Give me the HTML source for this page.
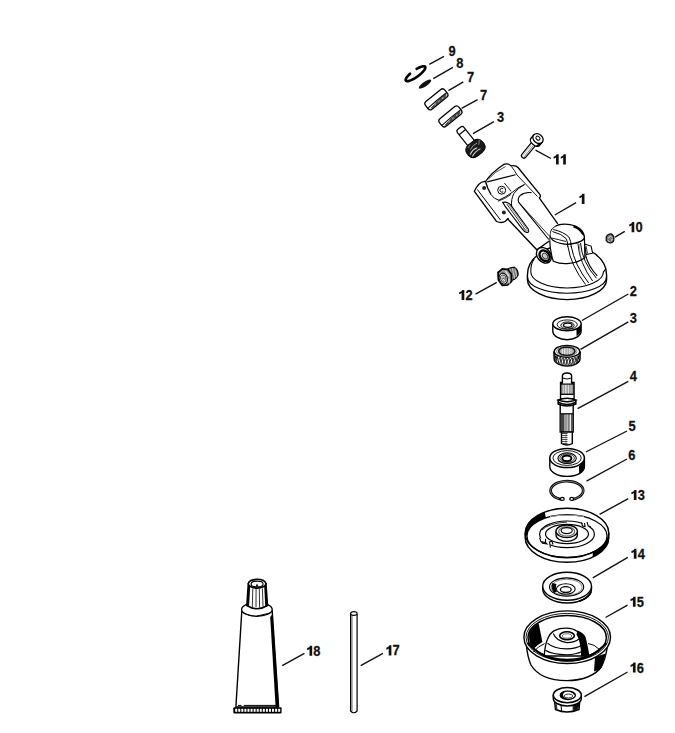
<!DOCTYPE html>
<html><head><meta charset="utf-8"><style>
html,body{margin:0;padding:0;background:#fff;}
body{width:675px;height:733px;overflow:hidden;}
svg{display:block;}
.lb{font-family:"Liberation Sans",sans-serif;font-weight:bold;font-size:14px;fill:#111;stroke:#111;stroke-width:0.25px;}
.ld{stroke:#111;stroke-width:1.4;}
</style></head><body>
<svg width="675" height="733" viewBox="0 0 675 733">
<rect width="675" height="733" fill="#fff"/>
<text transform="translate(448.60 56) scale(0.92 1)" class="lb">9</text>
<text transform="translate(456.30 67.9) scale(0.92 1)" class="lb">8</text>
<text transform="translate(467.00 82) scale(0.92 1)" class="lb">7</text>
<text transform="translate(480.00 99.6) scale(0.92 1)" class="lb">7</text>
<text transform="translate(497.00 121.6) scale(0.92 1)" class="lb">3</text>
<path d="M556.00,164.40 L558.70,164.40 L558.70,154.30 L556.70,154.30 Q556.10,156.10 553.60,156.70 L553.60,158.70 Q555.10,158.50 556.00,157.50 Z" fill="#111"/>
<path d="M563.16,164.40 L565.86,164.40 L565.86,154.30 L563.86,154.30 Q563.26,156.10 560.76,156.70 L560.76,158.70 Q562.26,158.50 563.16,157.50 Z" fill="#111"/>
<path d="M581.80,203.90 L584.50,203.90 L584.50,193.80 L582.50,193.80 Q581.90,195.60 579.40,196.20 L579.40,198.20 Q580.90,198.00 581.80,197.00 Z" fill="#111"/>
<path d="M631.60,232.20 L634.30,232.20 L634.30,222.10 L632.30,222.10 Q631.70,223.90 629.20,224.50 L629.20,226.50 Q630.70,226.30 631.60,225.30 Z" fill="#111"/>
<text transform="translate(635.46 232.2) scale(0.92 1)" class="lb">0</text>
<path d="M461.60,300.00 L464.30,300.00 L464.30,289.90 L462.30,289.90 Q461.70,291.70 459.20,292.30 L459.20,294.30 Q460.70,294.10 461.60,293.10 Z" fill="#111"/>
<text transform="translate(465.46 300) scale(0.92 1)" class="lb">2</text>
<text transform="translate(629.70 295.7) scale(0.92 1)" class="lb">2</text>
<text transform="translate(629.70 323.4) scale(0.92 1)" class="lb">3</text>
<text transform="translate(629.70 381.4) scale(0.92 1)" class="lb">4</text>
<text transform="translate(628.50 431) scale(0.92 1)" class="lb">5</text>
<text transform="translate(628.30 459.6) scale(0.92 1)" class="lb">6</text>
<path d="M633.80,500.00 L636.50,500.00 L636.50,489.90 L634.50,489.90 Q633.90,491.70 631.40,492.30 L631.40,494.30 Q632.90,494.10 633.80,493.10 Z" fill="#111"/>
<text transform="translate(637.66 500) scale(0.92 1)" class="lb">3</text>
<path d="M633.80,558.80 L636.50,558.80 L636.50,548.70 L634.50,548.70 Q633.90,550.50 631.40,551.10 L631.40,553.10 Q632.90,552.90 633.80,551.90 Z" fill="#111"/>
<text transform="translate(637.66 558.8) scale(0.92 1)" class="lb">4</text>
<path d="M632.90,606.80 L635.60,606.80 L635.60,596.70 L633.60,596.70 Q633.00,598.50 630.50,599.10 L630.50,601.10 Q632.00,600.90 632.90,599.90 Z" fill="#111"/>
<text transform="translate(636.76 606.8) scale(0.92 1)" class="lb">5</text>
<path d="M632.90,672.60 L635.60,672.60 L635.60,662.50 L633.60,662.50 Q633.00,664.30 630.50,664.90 L630.50,666.90 Q632.00,666.70 632.90,665.70 Z" fill="#111"/>
<text transform="translate(636.76 672.6) scale(0.92 1)" class="lb">6</text>
<path d="M309.50,655.80 L312.20,655.80 L312.20,645.70 L310.20,645.70 Q309.60,647.50 307.10,648.10 L307.10,650.10 Q308.60,649.90 309.50,648.90 Z" fill="#111"/>
<text transform="translate(313.36 655.8) scale(0.92 1)" class="lb">8</text>
<path d="M388.70,655.40 L391.40,655.40 L391.40,645.30 L389.40,645.30 Q388.80,647.10 386.30,647.70 L386.30,649.70 Q387.80,649.50 388.70,648.50 Z" fill="#111"/>
<text transform="translate(392.56 655.4) scale(0.92 1)" class="lb">7</text>
<line x1="429.3" y1="64.3" x2="444" y2="56.3" class="ld"/>
<line x1="433.3" y1="78.6" x2="452.9" y2="67.4" class="ld"/>
<line x1="448.5" y1="90.7" x2="463.3" y2="81.8" class="ld"/>
<line x1="461.6" y1="108.4" x2="477.6" y2="99.6" class="ld"/>
<line x1="473" y1="133.6" x2="493.9" y2="121.6" class="ld"/>
<line x1="535.5" y1="150.2" x2="550.9" y2="158.5" class="ld"/>
<line x1="554.8" y1="215" x2="576.1" y2="202.7" class="ld"/>
<line x1="615" y1="237.1" x2="624.8" y2="231.3" class="ld"/>
<line x1="475.5" y1="294.1" x2="496.8" y2="282.3" class="ld"/>
<line x1="582" y1="320.5" x2="628.3" y2="294" class="ld"/>
<line x1="580.5" y1="349.3" x2="628.3" y2="321.9" class="ld"/>
<line x1="577.6" y1="408.7" x2="628.3" y2="381.4" class="ld"/>
<line x1="585.8" y1="452" x2="627" y2="431" class="ld"/>
<line x1="586.5" y1="481.2" x2="627" y2="459" class="ld"/>
<line x1="599.6" y1="514.3" x2="628.3" y2="498.7" class="ld"/>
<line x1="592.8" y1="577.9" x2="627.8" y2="557.4" class="ld"/>
<line x1="605.5" y1="617.5" x2="627.5" y2="605.2" class="ld"/>
<line x1="584.4" y1="696.6" x2="627.6" y2="672" class="ld"/>
<line x1="282.2" y1="665.7" x2="304.4" y2="653.3" class="ld"/>
<line x1="360.7" y1="665.7" x2="383" y2="653.3" class="ld"/>
<path d="M416.62,68.93 L417.97,68.18 L419.28,67.54 L420.52,67.02 L421.65,66.63 L422.67,66.37 L423.55,66.26 L424.27,66.29 L424.82,66.47 L425.19,66.79 L425.37,67.24 L425.36,67.82 L425.15,68.51 L424.76,69.31 L424.19,70.19 L423.45,71.13 L422.55,72.13 L421.52,73.16 L420.37,74.20 L419.13,75.23 L417.81,76.23 L416.45,77.18 L415.07,78.06 L413.70,78.86 L412.37,79.55 L411.09,80.14 L409.90,80.59 L408.82,80.92 L407.87,81.10 L407.07,81.14 L406.43,81.03 L405.97,80.79 L405.70,80.40 L405.61,79.88 L405.72,79.25 L406.02,78.50 L406.50,77.66 L407.16,76.75 L407.98,75.77 L408.95,74.76 L410.04,73.72" fill="none" stroke="#000" stroke-width="2.6" stroke-linecap="round"/>
<ellipse cx="425" cy="84.1" rx="7.4" ry="2.3" transform="rotate(-34 425 84.1)" fill="#111"/>
<g transform="translate(436.4 99.3) rotate(-39)"><rect x="-12.4" y="-4.9" width="24.8" height="9.8" rx="2.8" ry="3.4" fill="#fff" stroke="#000" stroke-width="1.3"/><path d="M-11.8,1.6 Q0,0.9 12.3,1.2" fill="none" stroke="#000" stroke-width="1"/><path d="M-10,3.6 Q0,1.3 11,1.5 Q10,4.4 2,4.6 Q-4,4.7 -10,3.6Z" fill="#4a4a4a" stroke="#222" stroke-width="0.6"/><path d="M-5,3.8 L-3.5,2.6 M0,3.8 L1.5,2.5 M5,3.7 L6.5,2.5" stroke="#ddd" stroke-width="0.7"/></g>
<g transform="translate(450.4 116.4) rotate(-39)"><rect x="-12.4" y="-4.9" width="24.8" height="9.8" rx="2.8" ry="3.4" fill="#fff" stroke="#000" stroke-width="1.3"/><path d="M-11.8,1.6 Q0,0.9 12.3,1.2" fill="none" stroke="#000" stroke-width="1"/><path d="M-10,3.6 Q0,1.3 11,1.5 Q10,4.4 2,4.6 Q-4,4.7 -10,3.6Z" fill="#4a4a4a" stroke="#222" stroke-width="0.6"/><path d="M-5,3.8 L-3.5,2.6 M0,3.8 L1.5,2.5 M5,3.7 L6.5,2.5" stroke="#ddd" stroke-width="0.7"/></g>
<g transform="translate(475.5 148.5) rotate(-38.6)"><path d="M-4.2,-3 L-4.2,-23.5 Q-4.2,-26 -1.8,-26 L1.8,-26 Q4.2,-26 4.2,-23.5 L4.2,-3" fill="#fff" stroke="#000" stroke-width="1.2"/><line x1="-4.2" y1="-21" x2="4.2" y2="-21" stroke="#000" stroke-width="1.1"/><g transform="scale(0.93)"><path d="M-10.5,-1 Q-10.5,-7 -4,-7.8 L4,-7.8 Q10.5,-7 10.5,-1 L10.5,1.5 Q10,7.5 3,7.8 L-3,7.8 Q-10,7.5 -10.5,1.5 Z" fill="#1a1a1a" stroke="#000" stroke-width="1"/><path d="M-8.5,1.5 Q-3,-1.5 2,0.5" fill="none" stroke="#ddd" stroke-width="1.1"/><path d="M-8,4.5 Q-2,2 4,3.5" fill="none" stroke="#ccc" stroke-width="1"/><path d="M-5,-2.5 Q0,-5 5,-3.5" fill="none" stroke="#aaa" stroke-width="0.9"/><path d="M5,-1 Q8,-3 9,-5" fill="none" stroke="#888" stroke-width="0.9"/><path d="M-6,-5.5 L-2,-6.6" fill="none" stroke="#999" stroke-width="0.8"/></g></g>
<g transform="translate(538 138.6) rotate(39.5)"><rect x="-2.5" y="4" width="5" height="20.5" rx="2.4" fill="#fff" stroke="#000" stroke-width="1.2"/><line x1="0.9" y1="9" x2="0.9" y2="23" stroke="#666" stroke-width="0.8"/><line x1="-0.9" y1="9" x2="-0.9" y2="23" stroke="#999" stroke-width="0.6"/><path d="M-5.6,0 L-5.6,4.5 A5.6,3.2 0 0 0 5.6,4.5 L5.6,0" fill="#fff" stroke="#000" stroke-width="1.3"/><path d="M3,7.2 Q5.6,6 5.6,3 L5.6,1 L3.5,4 Z" fill="#000"/><ellipse cx="0" cy="0" rx="5.6" ry="4.4" fill="#fff" stroke="#000" stroke-width="1.3"/><ellipse cx="-0.3" cy="-0.3" rx="2.3" ry="1.7" fill="#fff" stroke="#000" stroke-width="1"/></g>
<path d="M606.3,236.5 Q608,233.6 611,233.8 Q613.8,235 613.9,238.5 Q614.2,242 611,242.8 Q607.5,243 606.2,240.5 Z" fill="#777" stroke="#111" stroke-width="1.3"/>
<path d="M608,238 L610.8,236.2 L612.5,237.8" fill="none" stroke="#ddd" stroke-width="0.9"/>
<path d="M607.8,240.6 L609.5,241.5 M611,240.2 L612.6,239.6" fill="none" stroke="#eee" stroke-width="0.9"/>
<path d="M507,270 Q510,267 514.5,267.5 Q518.5,270 518,275 Q516.5,279 512,280 L508,281 Z" fill="#777" stroke="#000" stroke-width="1.3"/><path d="M509.8,268.5 L512.5,279.5 M512.3,268 L514.8,278.8 M514.8,268.3 L517,277.5" stroke="#ddd" stroke-width="0.8"/><path d="M498,272.5 L502.3,268.8 L507.7,269.3 L511.3,274 L511.6,281.4 L507.7,285 L502.3,285.4 L498.4,280 Z" fill="#999" stroke="#000" stroke-width="1.7" stroke-linejoin="round"/><path d="M505.5,271 L509,276.5 M508.8,278.5 L509.2,283.5" stroke="#eee" stroke-width="1.2"/><ellipse cx="503.3" cy="278.6" rx="4.1" ry="5.5" transform="rotate(-15 503.3 278.6)" fill="#fff" stroke="#111" stroke-width="1.1"/><ellipse cx="503.3" cy="278.6" rx="2.7" ry="3.7" transform="rotate(-15 503.3 278.6)" fill="#fff" stroke="#222" stroke-width="0.9"/><ellipse cx="503.3" cy="278.6" rx="1.3" ry="1.9" transform="rotate(-15 503.3 278.6)" fill="#fff" stroke="#444" stroke-width="0.6"/><circle cx="503.2" cy="278.5" r="0.6" fill="#000"/>
<g><path d="M527.4,275 A39.6,30 0 0 1 606.6,275 L606.6,279.6 A39.6,20 0 0 1 527.4,279.6 Z" fill="#fff" stroke="#000" stroke-width="1.4"/><path d="M527.6,277.3 A39.4,16 0 0 0 606.4,277.3" fill="none" stroke="#000" stroke-width="1.1"/><path d="M534.5,258.5 Q530.5,264 530.8,272 A36.3,16 0 0 0 603.4,272 Q604.5,271 605.9,268.5" fill="none" stroke="#000" stroke-width="1.1"/><path d="M584.5,244 L591.1,246.1 L592.6,253.2 L586.2,254.6 Z" fill="#fff" stroke="#000" stroke-width="1.1"/><path d="M586,246 L587.5,253.5" stroke="#000" stroke-width="0.8"/><path d="M549.8,235 Q549,248 553.3,261.2 Q561,264.5 569.3,263.4 Q578,262.5 584.9,257.7 L584.4,236 Z" fill="#fff" stroke="#000" stroke-width="1.2"/><path d="M567.8,246 Q571,266 585.6,284.5" fill="none" stroke="#000" stroke-width="1"/><path d="M571.2,246 Q574.5,265 588.7,283" fill="none" stroke="#000" stroke-width="1"/><path d="M577.9,243.5 Q579.5,263 592.6,281" fill="none" stroke="#000" stroke-width="1"/><path d="M580.5,243 Q582,262 596.5,278.3" fill="none" stroke="#000" stroke-width="1"/><path d="M585.6,255.1 Q588,266 597.3,275.8" fill="none" stroke="#000" stroke-width="1.1"/><path d="M579.2,244 L580.5,258" fill="none" stroke="#777" stroke-width="0.7"/><path d="M549.8,235 Q550,227 558,225 Q566,222.8 575.6,226 Q584,230 584.4,237.5 Q583,243 567,244.3 Q551,243 549.8,235 Z" fill="#fff" stroke="#000" stroke-width="1.3"/><path d="M574,225.5 Q583,228.5 584.3,236 L582,234.5 Q579,229 573,227.2 Z" fill="#000"/><path d="M551.8,238 Q560,240 566,241.5" fill="none" stroke="#000" stroke-width="0.9"/><path d="M552.4,231.5 Q562,234 566,238.5 Q567.8,241 567.8,247" fill="none" stroke="#000" stroke-width="1"/><path d="M553.2,229.5 Q564,232 568.8,237 Q571.2,240.5 571.2,247" fill="none" stroke="#000" stroke-width="1"/><path d="M497,203 L536.8,249.8 L549.3,241 Q549.3,233 551,229.5 Q554,226 557.8,223.9 L538.9,197.4 L520,190 Z" fill="#fff" stroke="none"/><path d="M507.8,219 L536.8,249.8 L549.3,241 M557.8,223.9 L538.9,197.4" fill="none" stroke="#000" stroke-width="1.3"/><ellipse cx="543.9" cy="255.3" rx="6.6" ry="8.6" transform="rotate(-40 543.9 255.3)" fill="#fff" stroke="#000" stroke-width="1.4"/><ellipse cx="544.6" cy="255.8" rx="4.5" ry="5.9" transform="rotate(-40 544.6 255.8)" fill="#fff" stroke="#000" stroke-width="2.3"/><ellipse cx="545" cy="256.1" rx="2.3" ry="3.2" transform="rotate(-40 545 256.1)" fill="#ccc" stroke="#333" stroke-width="1"/><path d="M487,181.6 L484.4,181.3 Q478.5,182 474.4,191.3 L496.5,221.5 Q501.9,223.6 505.4,221.3 L508,218.5 L499,203 L491,194.7 Z" fill="#fff" stroke="none"/><path d="M487,181.6 L484.4,181.3 Q478.5,182 474.4,191.3 L496.5,221.5 Q501.9,223.6 505.4,221.3 L508.5,218" fill="none" stroke="#000" stroke-width="1.3"/><path d="M477.3,189.5 L500.5,220" fill="none" stroke="#000" stroke-width="1"/><circle cx="484.1" cy="188.1" r="2" fill="#222"/><path d="M485.6,181.5 Q491,173 503.3,164.7 Q507.8,162.8 511.1,165.8 Q516,165 518,167.5 L540,194.7 Q541.2,197.2 538.9,197.8 L529,192.4 Q521,194 518.3,200.4 L511.7,206.7 L499,203 L491.1,194.7 Q487,188 485.6,181.5 Z" fill="#fff" stroke="none"/><path d="M491.1,194.7 Q487,188 485.6,181.5 Q491,173 503.3,164.7 Q507.8,162.8 511.1,165.8 Q516,165 518,167.5 L540,194.7 Q541.2,197.2 538.9,197.8" fill="none" stroke="#000" stroke-width="1.3"/><path d="M548.8,239.5 L518.6,202.2 Q517.2,198.5 520.5,195.2 Q524.5,192 531.5,192.6" fill="none" stroke="#000" stroke-width="1.1"/><path d="M549.8,236.5 L520.2,204" fill="none" stroke="#000" stroke-width="0.8"/><path d="M511.7,207 Q510.8,199 514,193.3 Q518,188 524.6,184.4" fill="none" stroke="#000" stroke-width="1"/><path d="M487.2,181.9 L515.6,174.7" fill="none" stroke="#000" stroke-width="1.1"/><path d="M488.5,179 Q494,172 505.5,166.5" fill="none" stroke="#000" stroke-width="0.7"/><path d="M511.5,166.5 Q515,171 517,175 L537.5,196.5" fill="none" stroke="#000" stroke-width="0.9"/><path d="M504.4,183 L511.1,191.3" fill="none" stroke="#000" stroke-width="0.9"/><path d="M491.1,194.7 Q494,199 498.9,200.2 Q506,197 512.2,192.4 Q518,187 524.4,184.7" fill="none" stroke="#000" stroke-width="1"/><path d="M497.8,201.3 Q505,199 511,194.5" fill="none" stroke="#000" stroke-width="0.8"/><circle cx="501.7" cy="190.2" r="4" fill="#fff" stroke="#000" stroke-width="1"/><path d="M503.2,188.6 A2,2 0 1 0 503.2,191.8" fill="none" stroke="#000" stroke-width="1"/><g transform="translate(2.2 -0.6)"><path d="M500.5,203 Q505,202 508,205 L526,229.5 Q527.5,233.5 524.5,233 Q522,232.5 520,229.5 L503,207 Z" fill="#fff" stroke="#000" stroke-width="1.1"/><path d="M504.5,204.5 L523.5,231" fill="none" stroke="#000" stroke-width="0.8"/><path d="M506.5,204.8 L525.2,230.5" fill="none" stroke="#555" stroke-width="0.7"/><path d="M521,229 Q523.5,233 526,231" fill="none" stroke="#888" stroke-width="1.2"/></g><circle cx="503.9" cy="212.6" r="2" fill="#222"/></g>
<path d="M552.8,323.8 L552.8,331 A14.15,8.7 0 0 0 581.1,331 L581.1,323.8" fill="#fff" stroke="#000" stroke-width="1.4"/>
<path d="M576.4,328.5 L576.6,336.2 Q580,334 581.1,331 L581.1,325.5 Q579.5,327.8 576.4,328.5 Z" fill="#000"/>
<ellipse cx="567" cy="323.8" rx="14.15" ry="7" fill="#fff" stroke="#000" stroke-width="1.4"/>
<ellipse cx="567.2" cy="324.6" rx="10.1" ry="4.7" fill="#fff" stroke="#000" stroke-width="0.9"/>
<ellipse cx="567.5" cy="325.4" rx="6.7" ry="3.5" fill="#e0e0e0" stroke="#000" stroke-width="0.9"/>
<ellipse cx="567.8" cy="325.2" rx="4.2" ry="2.1" fill="#fff" stroke="#000" stroke-width="1.3"/>
<path d="M553.9,351.5 L554.2,358.8 A12.9,7.2 0 0 0 580,358.8 L580.2,351.5" fill="#fff" stroke="#000" stroke-width="1.5"/>
<ellipse cx="556.60" cy="359.20" rx="0.68" ry="3.55" transform="rotate(12 556.60 359.20)" fill="#fff" stroke="#111" stroke-width="0.9"/><ellipse cx="559.55" cy="360.69" rx="0.94" ry="3.69" transform="rotate(12 559.55 360.69)" fill="#fff" stroke="#111" stroke-width="0.9"/><ellipse cx="562.50" cy="361.49" rx="1.08" ry="3.76" transform="rotate(12 562.50 361.49)" fill="#fff" stroke="#111" stroke-width="0.9"/><ellipse cx="565.45" cy="361.85" rx="1.14" ry="3.80" transform="rotate(12 565.45 361.85)" fill="#fff" stroke="#111" stroke-width="0.9"/><ellipse cx="568.40" cy="361.86" rx="1.14" ry="3.80" transform="rotate(12 568.40 361.86)" fill="#fff" stroke="#111" stroke-width="0.9"/><ellipse cx="571.35" cy="361.51" rx="1.08" ry="3.76" transform="rotate(12 571.35 361.51)" fill="#fff" stroke="#111" stroke-width="0.9"/><ellipse cx="574.30" cy="360.74" rx="0.95" ry="3.69" transform="rotate(12 574.30 360.74)" fill="#fff" stroke="#111" stroke-width="0.9"/><ellipse cx="577.25" cy="359.31" rx="0.70" ry="3.56" transform="rotate(12 577.25 359.31)" fill="#fff" stroke="#111" stroke-width="0.9"/>
<path d="M554,354 Q555,359 557,361 L556,356 Z" fill="#000"/>
<path d="M580,354 Q579.5,359 577,361.5 L578.2,356 Z" fill="#000"/>
<ellipse cx="567" cy="351.4" rx="12.8" ry="6" fill="#fff" stroke="#000" stroke-width="1.4"/>
<ellipse cx="566.8" cy="351.3" rx="8.2" ry="4.2" fill="#aaa" stroke="#111" stroke-width="1.6"/>
<ellipse cx="566.8" cy="351.3" rx="10.2" ry="5" fill="none" stroke="#555" stroke-width="0.7"/>
<line x1="562.3" y1="348.4" x2="562.3" y2="354.2" stroke="#eee" stroke-width="0.9"/><line x1="564.8" y1="348.4" x2="564.8" y2="354.2" stroke="#fff" stroke-width="0.9"/><line x1="567.3" y1="348.4" x2="567.3" y2="354.2" stroke="#ddd" stroke-width="0.9"/><line x1="569.8" y1="348.4" x2="569.8" y2="354.2" stroke="#fff" stroke-width="0.9"/><line x1="571.8" y1="348.4" x2="571.8" y2="354.2" stroke="#ccc" stroke-width="0.9"/>
<rect x="560.6" y="382.5" width="13.4" height="16" fill="#999" stroke="#000" stroke-width="1.5"/><rect x="562.8000000000001" y="385" width="1.2" height="10" fill="#ccc"/><rect x="565.2" y="385" width="1.2" height="10" fill="#eee"/><rect x="567.8000000000001" y="385" width="1.2" height="10" fill="#ddd"/><rect x="570.4" y="385" width="1.2" height="10" fill="#bbb"/><line x1="561" y1="383.8" x2="573.6" y2="383.8" stroke="#000" stroke-width="1.6"/><rect x="561.3" y="394.5" width="12" height="3.5" fill="#fff"/><line x1="561" y1="394.3" x2="573.6" y2="394.3" stroke="#000" stroke-width="1.3"/><path d="M562.4,383.5 L562.4,376 Q562.4,373 567,373 Q571.6,373 571.6,376 L571.6,383.5" fill="#fff" stroke="#000" stroke-width="1.4"/><path d="M562.6,378 Q567,380 571.4,378" fill="none" stroke="#000" stroke-width="1"/><rect x="560.2" y="405" width="13" height="27" fill="#fff" stroke="#000" stroke-width="1.4"/><rect x="560.6" y="413.8" width="12.2" height="17.8" fill="#444"/><rect x="564" y="413.8" width="3" height="17.8" fill="#999"/><rect x="567" y="413.8" width="1.5" height="17.8" fill="#bbb"/><rect x="569.5" y="413.8" width="1.6" height="17.8" fill="#eee"/><line x1="560.5" y1="413.8" x2="573" y2="413.8" stroke="#000" stroke-width="1.2"/><path d="M558.2,400 L558.2,404 Q567,408 575.8,404 L575.8,400" fill="#fff" stroke="#000" stroke-width="1.6"/><path d="M558.2,400 Q567,396.5 575.8,400 Q567,403.5 558.2,400 Z" fill="#fff" stroke="#000" stroke-width="1.5"/><path d="M558.8,402.5 Q567,406.5 575.2,402.5" fill="none" stroke="#000" stroke-width="1.4"/><path d="M561.5,432 L561.5,443.5 Q567,446.5 572.3,443.5 L572.3,432 Z" fill="#fff" stroke="#000" stroke-width="1.4"/><line x1="562" y1="433.5" x2="567.5" y2="433.5" stroke="#333" stroke-width="0.9"/><line x1="562" y1="435.5" x2="567.5" y2="435.5" stroke="#333" stroke-width="0.9"/><line x1="562" y1="437.5" x2="567.5" y2="437.5" stroke="#333" stroke-width="0.9"/><line x1="562" y1="439.5" x2="567.5" y2="439.5" stroke="#333" stroke-width="0.9"/><line x1="562" y1="441.5" x2="567.5" y2="441.5" stroke="#333" stroke-width="0.9"/><line x1="562" y1="443.5" x2="567.5" y2="443.5" stroke="#333" stroke-width="0.9"/><line x1="566" y1="432.5" x2="566" y2="444" stroke="#555" stroke-width="0.6"/>
<path d="M549.8,458 L549.8,466.8 A17.3,9.6 0 0 0 584.4,466.8 L584.4,458" fill="#fff" stroke="#000" stroke-width="1.4"/>
<path d="M579,466.2 L579.2,474.5 Q583.5,471 584.4,466.8 L584.4,459 Q582.5,464 579,466.2 Z" fill="#000"/>
<ellipse cx="567.1" cy="458" rx="17.3" ry="9.6" fill="#fff" stroke="#000" stroke-width="1.5"/>
<ellipse cx="567.1" cy="458" rx="14.2" ry="7.4" fill="none" stroke="#000" stroke-width="0.9"/>
<ellipse cx="567.1" cy="458.2" rx="9.2" ry="5.3" fill="#fff" stroke="#000" stroke-width="1.1"/>
<ellipse cx="567.1" cy="458.2" rx="7.3" ry="4.2" fill="none" stroke="#000" stroke-width="0.8"/>
<ellipse cx="566.8" cy="458.3" rx="4.6" ry="2.9" fill="#fff" stroke="#000" stroke-width="2"/>
<path d="M561.86,499.54 L559.71,499.04 L557.70,498.36 L555.88,497.53 L554.29,496.55 L552.95,495.46 L551.89,494.27 L551.14,493.00 L550.71,491.68 L550.61,490.34 L550.84,489.01 L551.39,487.71 L552.26,486.46 L553.43,485.31 L554.87,484.26 L556.56,483.33 L558.46,482.56 L560.52,481.95 L562.72,481.51 L565.01,481.26 L567.33,481.20 L569.64,481.33 L571.90,481.65 L574.05,482.15 L576.06,482.83 L577.89,483.66 L579.49,484.63 L580.83,485.72 L581.89,486.91 L582.65,488.18 L583.09,489.50 L583.19,490.83 L582.97,492.17 L582.42,493.47 L581.56,494.71 L580.39,495.87 L578.96,496.93 L577.27,497.85 L575.38,498.63 L573.31,499.24 L571.12,499.68" fill="none" stroke="#000" stroke-width="2.7"/>
<path d="M558.75,498.74 L556.95,498.05 L555.32,497.22 L553.90,496.27 L552.71,495.23 L551.77,494.10 L551.10,492.91 L550.71,491.68 L550.60,490.44 L550.78,489.19 L551.25,487.97 L551.99,486.80 L553.00,485.69 L554.25,484.67 L555.73,483.75 L557.41,482.96 L559.25,482.30 L561.22,481.79 L563.30,481.43 L565.44,481.24 L567.61,481.21 L569.77,481.35 L571.87,481.65 L573.89,482.11 L575.78,482.72 L577.51,483.47 L579.06,484.34 L580.39,485.33 L581.49,486.41 L582.32,487.56 L582.89,488.77 L583.17,490.01 L583.16,491.26 L582.87,492.49 L582.29,493.70 L581.44,494.85 L580.33,495.92 L578.99,496.91 L577.43,497.77 L575.69,498.52 L573.79,499.12" fill="none" stroke="#fff" stroke-width="0.5"/>
<ellipse cx="562.3" cy="498.9" rx="1.9" ry="1.5" fill="#fff" stroke="#000" stroke-width="1.3"/>
<ellipse cx="571.7" cy="498.9" rx="1.9" ry="1.5" fill="#fff" stroke="#000" stroke-width="1.3"/>
<path d="M525.2,533 L525.2,537.6 A41.8,24.7 0 0 0 608.8,537.6 L608.8,533" fill="#fff" stroke="#000" stroke-width="1.5"/><ellipse cx="567" cy="533" rx="41.8" ry="24.7" fill="#fff" stroke="#000" stroke-width="1.5"/><path d="M608.39,541.04 L608.23,541.66 L608.04,542.28 L607.82,542.90 L607.58,543.52 L607.31,544.13 L607.02,544.74 L606.69,545.34 L606.35,545.94 L605.97,546.53 L605.57,547.12 L605.15,547.70 L604.70,548.27 L604.22,548.84 L603.72,549.40 L603.20,549.95 L602.65,550.49 L602.08,551.03 L601.49,551.55 L600.87,552.07 L600.24,552.58 L599.58,553.08 L598.90,553.56 L598.19,554.04 L597.47,554.51 L596.73,554.96 L595.97,555.41 L595.19,555.84 L594.39,556.26 L593.57,556.67 L592.73,557.06 L592.73,552.46 L593.57,552.07 L594.39,551.66 L595.19,551.24 L595.97,550.81 L596.73,550.36 L597.47,549.91 L598.19,549.44 L598.90,548.96 L599.58,548.48 L600.24,547.98 L600.87,547.47 L601.49,546.95 L602.08,546.43 L602.65,545.89 L603.20,545.35 L603.72,544.80 L604.22,544.24 L604.70,543.67 L605.15,543.10 L605.57,542.52 L605.97,541.93 L606.35,541.34 L606.69,540.74 L607.02,540.14 L607.31,539.53 L607.58,538.92 L607.82,538.30 L608.04,537.68 L608.23,537.06 L608.39,536.44Z" fill="#000"/><ellipse cx="567" cy="536" rx="40" ry="21.3" fill="none" stroke="#000" stroke-width="1.2"/><path d="M525.23,533.86 L525.20,533.00 L525.23,532.14 L525.30,531.28 L525.43,530.42 L525.61,529.56 L525.84,528.71 L526.11,527.86 L526.44,527.02 L526.82,526.19 L527.25,525.37 L527.72,524.55 L528.24,523.75 L528.81,522.95 L529.43,522.17 L530.09,521.40 L530.80,520.65 L531.55,519.91 L532.35,519.19 L533.18,518.48 L534.06,517.79 L534.98,517.12 L535.94,516.47 L536.93,515.84 L537.96,515.23 L539.03,514.64 L540.13,514.08 L541.27,513.54 L542.43,513.02 L543.63,512.52 L544.85,512.05 L545.80,517.94 L544.63,518.34 L543.49,518.77 L542.37,519.22 L541.29,519.68 L540.23,520.17 L539.21,520.68 L538.23,521.20 L537.27,521.75 L536.36,522.31 L535.48,522.89 L534.64,523.48 L533.84,524.09 L533.08,524.71 L532.36,525.35 L531.68,526.00 L531.05,526.66 L530.46,527.34 L529.91,528.02 L529.41,528.71 L528.96,529.42 L528.55,530.13 L528.19,530.85 L527.87,531.57 L527.61,532.30 L527.39,533.04 L527.22,533.77 L527.10,534.51 L527.02,535.26 L527.00,536.00 L527.02,536.74Z" fill="#000"/><path d="M550,516.5 Q567,514 584,516.5" fill="none" stroke="#999" stroke-width="1.2"/><ellipse cx="567" cy="534.3" rx="27.4" ry="13.3" fill="none" stroke="#000" stroke-width="1.2"/><ellipse cx="567" cy="534" rx="21.5" ry="9.6" fill="none" stroke="#000" stroke-width="1.2"/><path d="M542,530 Q548,523.5 567,522" fill="none" stroke="#000" stroke-width="0.8"/><path d="M539,537.5 L549.5,540.5 L550.5,546.5 L540,544 Z" fill="#fff"/><path d="M539.6,537.6 L540.8,541.5 L545.5,542.5 L545.6,538.8 M541,541.5 L542.5,543.2 L547,544 L545.5,542.5" fill="none" stroke="#000" stroke-width="1.1"/><path d="M550.5,547.6 L549.5,542 L552,541.3 L553,544.5" fill="none" stroke="#000" stroke-width="1.1"/><path d="M581.5,522 L588.5,522 L590,527 L584,526 Z" fill="#fff"/><path d="M581.6,522.3 L582.5,526 L585,526.6 L584.5,523 M587,522 L588.2,525.8 L590.8,527" fill="none" stroke="#000" stroke-width="1.1"/><path d="M556,531.3 L556,535 A10.7,6.3 0 0 0 577.4,535 L577.4,531.3" fill="#fff" stroke="#000" stroke-width="1.3"/><ellipse cx="566.7" cy="531.3" rx="10.7" ry="6.3" fill="#fff" stroke="#000" stroke-width="1.3"/><ellipse cx="566.7" cy="531.5" rx="8" ry="4.6" fill="none" stroke="#666" stroke-width="1.2"/><ellipse cx="566.7" cy="530.6" rx="5.6" ry="3" fill="#fff" stroke="#000" stroke-width="1.1"/>
<path d="M542.7,586.3 L542.7,589 A24.4,14 0 0 0 591.5,589 L591.5,586.3" fill="#fff" stroke="#000" stroke-width="1.4"/>
<path d="M591.13,591.43 L591.03,591.73 L590.92,592.03 L590.80,592.33 L590.67,592.62 L590.53,592.92 L590.37,593.21 L590.21,593.50 L590.03,593.79 L589.84,594.07 L589.64,594.36 L589.43,594.64 L589.21,594.92 L588.98,595.19 L588.74,595.46 L588.49,595.73 L588.23,596.00 L587.96,596.26 L587.68,596.52 L587.39,596.78 L587.09,597.03 L586.78,597.28 L586.46,597.52 L586.13,597.76 L585.79,598.00 L585.44,598.23 L585.09,598.46 L584.73,598.68 L584.35,598.90 L583.97,599.11 L583.58,599.32 L583.19,599.53 L582.78,599.72 L582.37,599.92 L581.95,600.11 L581.53,600.29 L581.10,600.47 L580.66,600.64 L580.21,600.81 L579.76,600.97 L579.30,601.12" fill="none" stroke="#000" stroke-width="1.8"/>
<ellipse cx="567.1" cy="586.3" rx="24.4" ry="14" fill="#fff" stroke="#000" stroke-width="1.4"/>
<ellipse cx="566.6" cy="587" rx="17.1" ry="9.1" fill="none" stroke="#000" stroke-width="1.1"/>
<ellipse cx="566.6" cy="587.3" rx="15.6" ry="8" fill="none" stroke="#444" stroke-width="0.6"/>
<path d="M552.3,583 Q550.5,588 554,593 L557,591.5 Q555,588 556.5,584 Z" fill="#000"/>
<ellipse cx="565.8" cy="589" rx="9.4" ry="5.3" fill="none" stroke="#000" stroke-width="1.1"/>
<ellipse cx="565.8" cy="589.6" rx="5.4" ry="2.9" fill="#fff" stroke="#000" stroke-width="1.3"/>
<path d="M526.5,646 Q527.5,657 531,665 C537,675 550,680.6 566.9,680.6 C583,680.6 596,675 601.5,666.5 Q605.5,659 607.5,646" fill="#fff" stroke="#000" stroke-width="1.4"/><path d="M594,671.5 Q599,670 601,668.5 Q604,662 605.6,653.5 L595,657 Z" fill="#000"/><ellipse cx="567.2" cy="637.2" rx="43.3" ry="26.3" fill="#fff" stroke="#000" stroke-width="1.4"/><ellipse cx="567.2" cy="637.2" rx="41.2" ry="23.8" fill="none" stroke="#000" stroke-width="0.9"/><ellipse cx="567.2" cy="637.5" rx="39.2" ry="21.9" fill="none" stroke="#000" stroke-width="1.5"/><path d="M533.5,652 Q538,646 544.6,643.6" fill="none" stroke="#000" stroke-width="1"/><path d="M588,643.5 Q594,644 599.5,649.5" fill="none" stroke="#000" stroke-width="1"/><path d="M529.1,632.4 Q533,626 538.7,623.5 L542.4,642 Q537,645 532.8,649.4 Q528.5,643 529.1,632.4 Z" fill="#000"/><path d="M544.2,656 Q545,645 547.5,639.3 Q550,633 554.3,630.6 Q560,628 566.8,628.2 Q573,628.3 577.4,631.6 Q582,634 584.5,640 L587,656 Z" fill="#fff" stroke="#000" stroke-width="1.3"/><path d="M553.3,633.5 Q556,641 566.8,642.6 Q575,642.5 579,639" fill="none" stroke="#000" stroke-width="1.1"/><path d="M547.5,643.1 Q553,648.5 566.8,648.9 Q576,648.8 582,645" fill="none" stroke="#000" stroke-width="1.1"/><path d="M545.3,650.3 Q552,654.5 566.8,654.7 Q576,654.7 583,651" fill="none" stroke="#000" stroke-width="1.1"/><path d="M577.4,630.4 Q583.5,632.5 585.5,637 Q587.5,644 589.3,655.3 L581.2,656.8 Q581,648 579.5,642 Q578.5,637.5 576.5,634.5 Z" fill="#000"/><ellipse cx="567" cy="635.7" rx="7.3" ry="3.9" fill="#fff" stroke="#000" stroke-width="1.6"/><ellipse cx="567" cy="636" rx="4.6" ry="2.2" fill="#fff" stroke="#333" stroke-width="0.7"/><path d="M527.5,643 Q545,661 567.2,660.8 Q590,661 606.5,643" fill="none" stroke="#000" stroke-width="2"/>
<path d="M554.7,702 L555.5,709.5 Q567,714.5 579,709.5 L579.6,702" fill="#fff" stroke="#000" stroke-width="1.5"/><path d="M573.5,711.5 Q578.5,709.5 579.2,706 L579.5,702 L573.5,703.5 Z" fill="#111"/><path d="M555,704 L555.6,709 L557.5,710.5 L557,704.5 Z" fill="#333"/><line x1="561" y1="705" x2="561.6" y2="711.3" stroke="#000" stroke-width="1"/><line x1="573.2" y1="705" x2="573.2" y2="711.5" stroke="#000" stroke-width="1"/><path d="M553.3,695.1 L553.3,698.5 A14,7.4 0 0 0 581.3,698.5 L581.3,695.1" fill="#fff" stroke="#000" stroke-width="1.5"/><ellipse cx="567.3" cy="695.1" rx="14" ry="7.6" fill="#fff" stroke="#000" stroke-width="1.5"/><ellipse cx="567.8" cy="695.3" rx="7.6" ry="4.2" fill="#fff" stroke="#000" stroke-width="1.3"/><path d="M561.5,692.5 Q559,696 562.5,698.5 Q565,699.5 568,699 Q563,697.5 563,694.5 Q563.5,692 566,691.3 Q563,691.2 561.5,692.5 Z" fill="#000"/><ellipse cx="568.5" cy="696" rx="4.2" ry="2" fill="none" stroke="#333" stroke-width="1"/><path d="M570,691.5 Q574,692.5 574.5,695" fill="none" stroke="#000" stroke-width="1.1"/>
<path d="M241.8,611 L235.9,707 L278.6,707 L272.2,611 Z" fill="#fff" stroke="#000" stroke-width="1.4"/><path d="M270.2,617 L275.6,706.8 L279,706.8 L272.6,614 Z" fill="#000"/><rect x="233.3" y="707.2" width="48.3" height="6.2" rx="1" fill="#000"/><rect x="235.20" y="708.8" width="2" height="3" fill="#fff"/><rect x="238.27" y="708.8" width="2" height="3" fill="#fff"/><rect x="241.34" y="708.8" width="2" height="3" fill="#fff"/><rect x="244.41" y="708.8" width="2" height="3" fill="#fff"/><rect x="247.48" y="708.8" width="2" height="3" fill="#fff"/><rect x="250.55" y="708.8" width="2" height="3" fill="#fff"/><rect x="253.62" y="708.8" width="2" height="3" fill="#fff"/><rect x="256.69" y="708.8" width="2" height="3" fill="#fff"/><rect x="259.76" y="708.8" width="2" height="3" fill="#fff"/><rect x="262.83" y="708.8" width="2" height="3" fill="#fff"/><rect x="265.90" y="708.8" width="2" height="3" fill="#fff"/><rect x="268.97" y="708.8" width="2" height="3" fill="#fff"/><rect x="272.04" y="708.8" width="2" height="3" fill="#fff"/><rect x="275.11" y="708.8" width="2" height="3" fill="#fff"/><rect x="278.18" y="708.8" width="2" height="3" fill="#fff"/><path d="M238,705.4 L241.5,705.4 M243.8,705.4 L276,705.4" stroke="#000" stroke-width="1"/><ellipse cx="256.9" cy="609.4" rx="15.3" ry="6.8" fill="#fff" stroke="#000" stroke-width="1.4"/><path d="M243,612.5 L246,614 M248,615 L253,615.8 M257,616 L270,613" fill="none" stroke="#000" stroke-width="0.9"/><path d="M248.3,583.7 L246.8,605.5 Q257,612 267.5,605.5 L266,583.7 Z" fill="#fff" stroke="#000" stroke-width="1.5"/><line x1="252.80" y1="588.5" x2="252.30" y2="607.5" stroke="#000" stroke-width="0.8"/><line x1="256.10" y1="588.5" x2="255.99" y2="607.5" stroke="#000" stroke-width="0.8"/><line x1="259.30" y1="588.5" x2="259.58" y2="607.5" stroke="#000" stroke-width="0.8"/><line x1="262.40" y1="588.5" x2="263.05" y2="607.5" stroke="#000" stroke-width="0.8"/><path d="M246.8,605.5 L248.3,584 L250.2,586 L249,607 Z" fill="#000"/><path d="M267.5,605.5 L266,584 L264.2,586 L265.3,607 Z" fill="#000"/><ellipse cx="257.1" cy="583.7" rx="8.8" ry="4.4" fill="#fff" stroke="#000" stroke-width="1.6"/><ellipse cx="257.1" cy="584" rx="6" ry="2.9" fill="#fff" stroke="#000" stroke-width="1.1"/><path d="M255.6,586.6 L257,583.4 L258.4,586.6 Z" fill="#000"/>
<path d="M350.6,614 L350.6,711 Q353.8,714.5 357.1,711 L357.1,614" fill="#fff" stroke="#000" stroke-width="1.2"/>
<ellipse cx="353.85" cy="613.5" rx="3.25" ry="1.9" fill="#fff" stroke="#000" stroke-width="1.2"/>
<line x1="352" y1="615.5" x2="352" y2="711" stroke="#000" stroke-width="0.6"/>
</svg>
</body></html>
